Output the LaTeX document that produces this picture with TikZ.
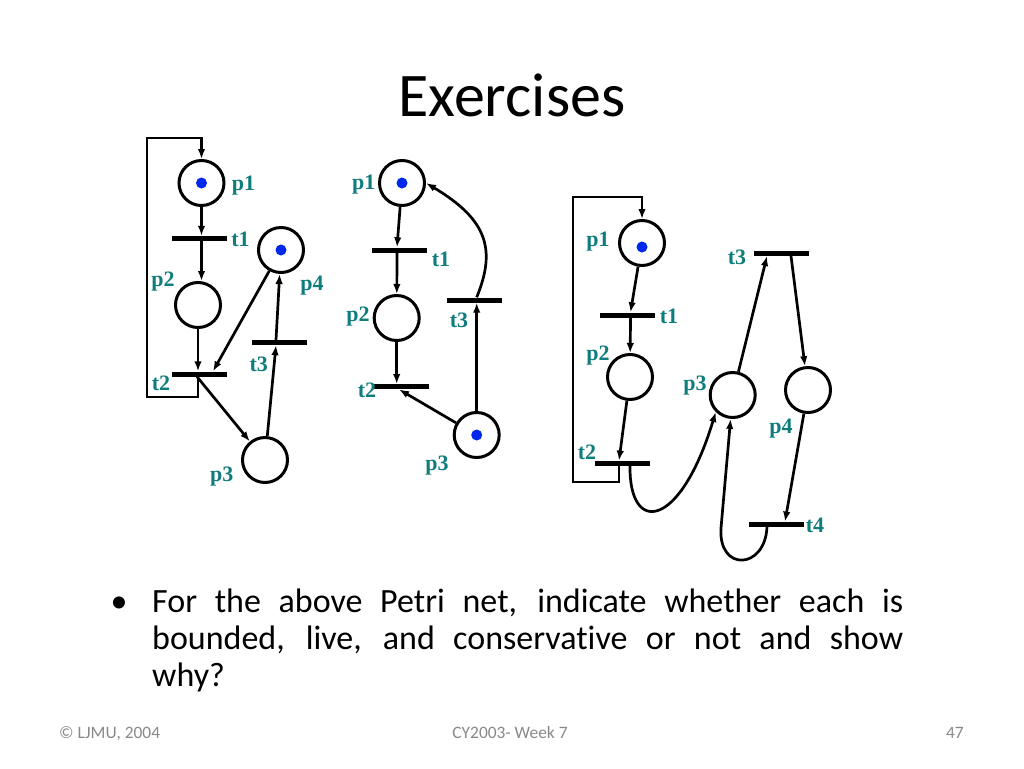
\documentclass[tikz,border=0pt]{standalone}
\usepackage{fontspec}
\setmainfont{Carlito}[Ligatures=NoCommon]
\newfontfamily\lbl{Liberation Serif}
\usetikzlibrary{arrows.meta,calc}
\definecolor{tealx}{RGB}{16,125,125}
\definecolor{tokblue}{RGB}{0,40,235}
\definecolor{footgray}{RGB}{137,137,137}
\begin{document}
\begin{tikzpicture}[x=1pt,y=-1pt,
  place/.style={circle, draw, line width=3pt, minimum size=45pt, inner sep=0pt},
  tok/.style={circle, fill=tokblue, minimum size=11pt, inner sep=0pt},
  tbar/.style={rectangle, fill=black, minimum width=55pt, minimum height=5pt, inner sep=0pt},
  lab/.style={text=tealx, font=\lbl\bfseries\fontsize{22}{24}\selectfont, inner sep=0pt},
  arr/.style={line width=2.7pt, -{Latex[length=10pt,width=7.5pt]}},
  foot/.style={text=footgray, inner sep=0pt, font=\fontsize{17.4}{19}\selectfont},
  body/.style={inner sep=0pt, font=\fontsize{34}{40}\selectfont}]
\useasboundingbox (0,0) rectangle (1024,768);
\fill[white] (0,0) rectangle (1024,768);

% title
\node[anchor=base, inner sep=0pt, font=\fontsize{62}{70}\selectfont] (title) at (512,116) {Exercises};

% ---------- net 1 ----------
\node[place] (ap1) at (201.5,183) {};
\node[tok] (ap1t) at (ap1) {};
\node[tbar] (at1) at (199,238.5) {};
\node[place] (ap2) at (198,305) {};
\node[tbar] (at2) at (199,374) {};
\node[place] (ap4) at (281,250) {};
\node[tok] (ap4t) at (ap4) {};
\node[tbar] (at3) at (279,342.5) {};
\node[place] (ap3) at (265,460) {};
\node[lab] (ap1l) at (243.5,186) {p1};
\node[lab] (at1l) at (240.5,239) {t1};
\node[lab] (ap2l) at (163,282) {p2};
\node[lab] (at2l) at (161,383) {t2};
\node[lab] (ap4l) at (312,286) {p4};
\node[lab] (at3l) at (258.7,364) {t3};
\node[lab] (ap3l) at (221.7,477) {p3};
\coordinate (ac1) at (147,397);
\coordinate (ac2) at (147,138);
\draw[arr] (ap1) -- (ap1 |- at1.north);
\draw[arr] (ap1 |- at1.south) -- (ap1 |- ap2.north);
\draw[arr] (ap2.south) -- (ap2.south |- at2.north);
\draw[arr] (ap2.south |- at2.south) |- (ac1) -- (ac2) -| (ap1.north);
\draw[arr] (ap4) -- ([xshift=14]at2.north);
\draw[arr] ([xshift=-2]at2.south) -- (ap3);
\draw[arr] (ap3) -- ([xshift=-3]at3.south);
\draw[arr] ([xshift=-3]at3.north) -- (ap4);

% ---------- net 2 ----------
\node[place] (bp1) at (402,183) {};
\node[tok] (bp1t) at (bp1) {};
\node[tbar] (bt1) at (399.5,250) {};
\node[place] (bp2) at (396.7,318) {};
\node[tbar] (bt2) at (401,386.7) {};
\node[tbar] (bt3) at (474,300) {};
\node[place] (bp3) at (476.7,435) {};
\node[tok] (bp3t) at (bp3) {};
\node[lab] (bp1l) at (363.8,185) {p1};
\node[lab] (bt1l) at (441,259) {t1};
\node[lab] (bp2l) at (358,317) {p2};
\node[lab] (bt2l) at (367,390) {t2};
\node[lab] (bt3l) at (459,320.5) {t3};
\node[lab] (bp3l) at (437,466) {p3};
\draw[arr] (bp1) -- ([xshift=-2.5]bt1.north);
\draw[arr] ([xshift=-2.5]bt1.south) -- (bp2);
\draw[arr] (bp2) -- (bp2 |- bt2.north);
\draw[arr] (bp3) -- ([xshift=-2]bt2.south);
\draw[arr] (bp3) -- (bp3 |- bt3.south);
\draw[arr] (bp3 |- bt3.north) .. controls (496,250) and (488,220) .. (bp1.east);

% ---------- net 3 ----------
\node[place] (cp1) at (642,243) {};
\node[tok] (cp1t) at (642,247) {};
\node[tbar] (ct1) at (627.5,315) {};
\node[place] (cp2) at (630,377) {};
\node[tbar] (ct2) at (622,463.3) {};
\node[place] (cp3) at (732.7,395) {};
\node[tbar] (ct3) at (781,253.3) {};
\node[place] (cp4) at (808,390) {};
\node[tbar] (ct4) at (776,524.3) {};
\node[lab] (cp1l) at (598,242) {p1};
\node[lab] (ct1l) at (669,316) {t1};
\node[lab] (cp2l) at (598,356) {p2};
\node[lab] (ct2l) at (587,452.5) {t2};
\node[lab] (cp3l) at (695,386) {p3};
\node[lab] (ct3l) at (737,257.5) {t3};
\node[lab] (cp4l) at (781,429) {p4};
\node[lab] (ct4l) at (815,525.5) {t4};
\coordinate (cc1) at (573,482);
\coordinate (cc2) at (573,197);
\draw[arr] ([xshift=-3]ct2.south) |- (cc1) -- (cc2) -| (cp1.north);
\draw[arr] (cp1) -- ([xshift=3]ct1.north);
\draw[arr] ([xshift=3]ct1.south) -- (cp2);
\draw[arr] (cp2) -- ([xshift=-3]ct2.north);
\draw[arr] ([xshift=8]ct2.south) .. controls (629,535) and (680,530) .. (cp3.225);
\draw[arr] (cp3) -- ([xshift=-14]ct3.south);
\draw[arr] ([xshift=10]ct3.south) -- (cp4);
\draw[arr] (cp4) -- ([xshift=9]ct4.north);
\draw[arr] ([xshift=-9]ct4.south) .. controls (765,570) and (718,572) .. (721,528) -- (cp3.265);

% ---------- text ----------
\node[anchor=base, body] (bul) at (119,612) {•};
\node[anchor=base west, body] (l1) at (152,612) {\makebox[751pt][s]{For the above Petri net, indicate whether each is}};
\node[anchor=base west, body] (l2) at (152,649) {\makebox[751pt][s]{bounded, live, and conservative or not and show}};
\node[anchor=base west, body] (l3) at (152,686) {why?};

\node[anchor=base west, foot] (f1) at (59,738) {© LJMU, 2004};
\node[anchor=base, foot] (f2) at (510,738) {CY2003- Week 7};
\node[anchor=base east, foot] (f3) at (964,738) {47};
\end{tikzpicture}
\end{document}
